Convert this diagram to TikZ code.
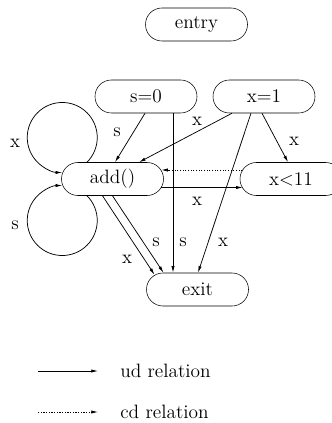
\documentclass[tikz,border=0pt]{standalone}
\usetikzlibrary{arrows.meta,calc}
\begin{document}
\begin{tikzpicture}[x=0.75pt,y=0.75pt,
  every node/.style={font=\fontsize{14.5}{17}\selectfont},
  stadium/.style={draw, rounded corners=12.3pt, minimum width=76.5pt, minimum height=24.75pt, inner sep=0pt},
  rel/.style={line width=0.55pt, -{Latex[length=5pt,width=2.4pt]}},
  cdrel/.style={rel, dash pattern=on 0.9pt off 1.1pt},
  lbl/.style={inner sep=0pt}]
\useasboundingbox (0,0) rectangle (331,-423);
% nodes
\node[stadium] (entry) at (196.5,-24.5) {entry};
\node[stadium] (s0) at (146,-96.5) {s=0};
\node[stadium] (x1) at (264,-96.5) {x=1};
\node[stadium] (add) at (112.5,-179) {add()};
\node[stadium] (lt) at (291,-179) {x<11};
\node[stadium] (exit) at (197.5,-289.5) {exit};
% edges
\draw[rel] ($(s0.south)+(-1,0)$) -- ($(add.north)+(2.5,0)$);
\draw[rel] ($(s0.south)+(27,0)$) -- ($(exit.north)+(-24.5,0)$);
\draw[rel] ($(x1.south)+(-32,0)$) -- ($(add.north)+(26.5,0)$);
\draw[rel] ($(x1.south)+(-13,0)$) -- ($(exit.north)+(0.5,0)$);
\draw[rel] ($(x1.south)+(-2,0)$) -- ($(lt.north)+(-3,0)$);
\draw[cdrel] ($(lt.west)+(2.7,9)$) -- ($(add.east)+(-2.5,9)$);
\draw[rel] ($(add.east)+(-3,-8.5)$) -- ($(lt.west)+(3,-8.5)$);
\draw[rel] ($(add.south)+(-10,0)$) -- ($(exit.north)+(-43,-2)$);
\draw[rel] ($(add.south)+(0,0)$) -- ($(exit.north)+(-34,0)$);
% self loops
\draw[rel] ($(add.north)+(-25.5,0)$) arc[start angle=-45, end angle=270, radius=26.25pt];
\draw[rel] ($(add.south)+(-25.5,0)$) arc[start angle=45, end angle=-270, radius=26.25pt];
% labels
\node[lbl] (ls1) at (117,-132) {s};
\node[lbl] (lx3) at (197,-121) {x};
\node[lbl] (lx5) at (294,-141) {x};
\node[lbl] (lxl) at (15,-143) {x};
\node[lbl] (lsl) at (15,-225) {s};
\node[lbl] (lx7) at (197,-201) {x};
\node[lbl] (ls2) at (183,-242) {s};
\node[lbl] (lx4) at (223,-242) {x};
\node[lbl] (ls8) at (156,-242) {s};
\node[lbl] (lx8) at (127,-259) {x};
% legend
\coordinate (u1) at (38,-371);
\coordinate (u2) at (98,-371);
\coordinate (c1) at (38,-412);
\coordinate (c2) at (98,-412);
\draw[rel] (u1) -- (u2);
\draw[cdrel] (c1) -- (c2);
\node[anchor=west, inner sep=0pt] (ud) at (120,-371) {ud relation};
\node[anchor=west, inner sep=0pt] (cd) at (120,-412) {cd relation};
\end{tikzpicture}
\end{document}
